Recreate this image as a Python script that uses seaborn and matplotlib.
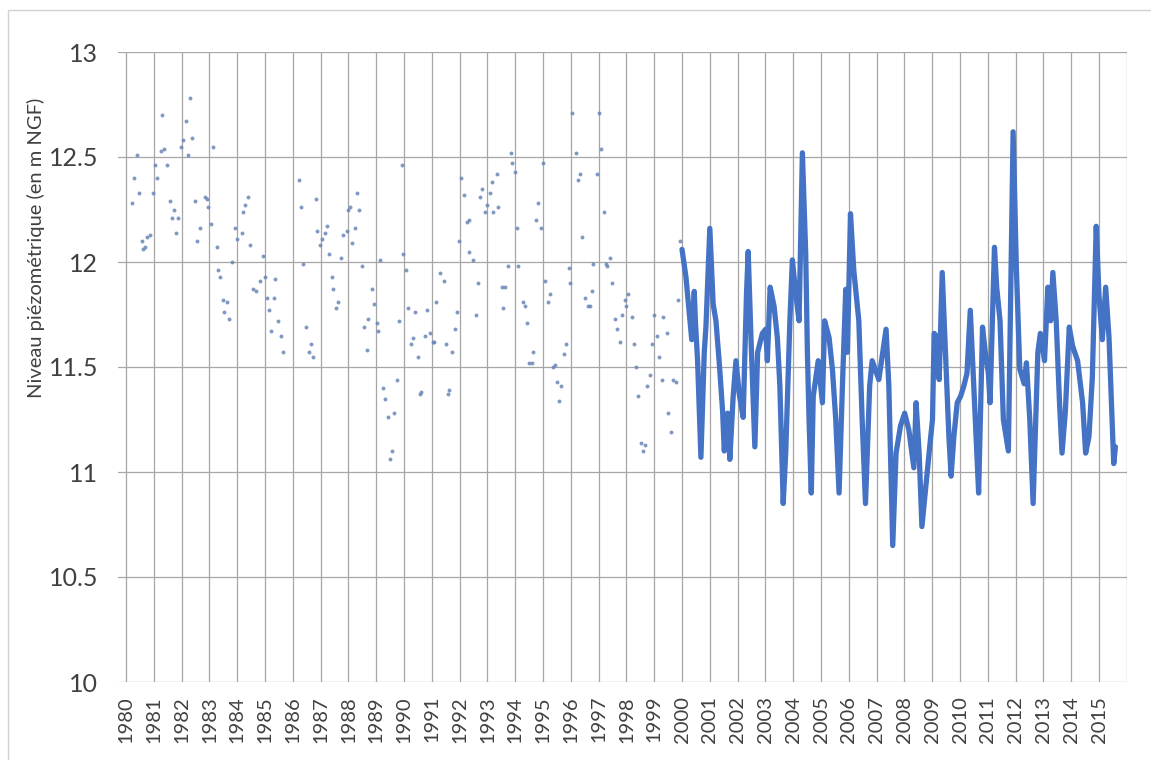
import numpy as np
import pandas as pd
import matplotlib
matplotlib.use("Agg")
import matplotlib.pyplot as plt
import matplotlib.patches as mpatches
import seaborn as sns

# relevés ponctuels 1980-2000 (année décimale, niveau m NGF)
obs_years = [
    1982.30, 1981.31, 1982.15, 1982.38, 1982.04, 1983.14, 1981.97, 1981.38, 1981.25, 1980.38,
    1982.24, 1981.04, 1981.46, 1980.29, 1981.10, 1980.48, 1980.98, 1980.21, 1981.58, 1982.48,
    1982.84, 1982.92, 1984.40, 1984.28, 1984.22, 1982.96, 1981.73, 1981.64, 1981.88, 1986.23,
    1986.83, 1986.29, 1983.05, 1982.66, 1981.80, 1983.92, 1984.16, 1984.00, 1980.86, 1980.77,
    1980.56, 1982.54, 1984.46, 1983.26, 1980.68, 1980.62, 1986.88, 1984.92, 1983.80, 1986.38,
    1983.30, 1983.38, 1985.00, 1985.36, 1984.82, 1984.58, 1984.68, 1985.06, 1985.32, 1983.48,
    1983.64, 1985.14, 1983.54, 1983.71, 1985.48, 1985.22, 1985.56, 1986.47, 1986.64, 1985.66,
    1986.59, 1986.72,
    1993.85, 1993.90, 1989.92, 1993.33, 1992.05, 1993.15, 1992.82, 1993.09, 1992.17, 1992.73,
    1988.32, 1992.97, 1993.39, 1988.06, 1988.00, 1988.38, 1992.91, 1993.21, 1992.34, 1992.25,
    1987.22, 1987.16, 1987.04, 1986.98, 1987.94, 1987.82, 1988.24, 1988.14, 1991.99, 1992.34,
    1987.31, 1987.73, 1989.97, 1989.14, 1992.49, 1988.48, 1990.06, 1993.75, 1987.40, 1991.29,
    1991.44, 1992.65, 1987.46, 1988.84, 1993.51, 1993.65, 1987.64, 1987.55, 1991.14, 1988.92,
    1990.15, 1990.40, 1990.82, 1991.90, 1992.59, 1993.57, 1988.72, 1988.56, 1989.02, 1989.08,
    1989.82, 1991.83, 1990.31, 1990.24, 1990.76, 1990.94, 1991.05, 1991.09, 1991.50, 1988.66,
    1991.71, 1990.51, 1989.76, 1989.26, 1989.32, 1990.61, 1990.58, 1991.62, 1991.57, 1989.65,
    1989.41, 1989.58, 1989.50,
    1996.05, 1997.01, 1997.08, 1996.18, 1993.99, 1995.01, 1996.33, 1996.27, 1996.95, 1994.83,
    1997.19, 1994.75, 1994.92, 1994.07, 1996.41, 1999.93, 1997.41, 1997.27, 1997.31, 1996.81,
    1994.11, 1995.94, 1995.07, 1995.97, 1997.49, 1995.25, 1996.75, 1996.51, 1998.07, 1997.95,
    1994.29, 1994.35, 1995.17, 1996.63, 1996.69, 1999.86, 1997.99, 1997.83, 1997.59, 1997.65,
    1998.19, 1998.99, 1999.33, 1994.43, 1999.09, 1999.45, 1997.77, 1998.27, 1998.93, 1995.82,
    1995.76, 1994.65, 1994.51, 1994.59, 1999.17, 1995.37, 1995.43, 1998.33, 1998.85, 1998.75,
    1999.27, 1999.69, 1999.77, 1995.51, 1995.65, 1995.59, 1998.41, 1999.51, 1999.62, 1998.53,
    1998.67, 1998.59,
]
obs_levels = [
    12.78, 12.70, 12.67, 12.59, 12.58, 12.55, 12.55, 12.54, 12.53, 12.51,
    12.51, 12.46, 12.46, 12.40, 12.40, 12.33, 12.33, 12.28, 12.29, 12.29,
    12.31, 12.30, 12.31, 12.27, 12.24, 12.26, 12.25, 12.21, 12.21, 12.39,
    12.30, 12.26, 12.18, 12.16, 12.14, 12.16, 12.14, 12.11, 12.13, 12.12,
    12.10, 12.10, 12.08, 12.07, 12.07, 12.06, 12.15, 12.03, 12.00, 11.99,
    11.96, 11.93, 11.93, 11.92, 11.91, 11.87, 11.86, 11.83, 11.83, 11.82,
    11.81, 11.77, 11.76, 11.73, 11.72, 11.67, 11.65, 11.69, 11.61, 11.57,
    11.57, 11.55,
    12.52, 12.47, 12.46, 12.42, 12.40, 12.38, 12.35, 12.33, 12.32, 12.31,
    12.33, 12.27, 12.26, 12.26, 12.25, 12.25, 12.24, 12.24, 12.20, 12.19,
    12.17, 12.14, 12.11, 12.08, 12.15, 12.13, 12.16, 12.09, 12.10, 12.05,
    12.04, 12.02, 12.04, 12.01, 12.01, 11.98, 11.96, 11.98, 11.93, 11.95,
    11.91, 11.90, 11.87, 11.87, 11.88, 11.88, 11.81, 11.78, 11.81, 11.80,
    11.78, 11.76, 11.77, 11.76, 11.75, 11.78, 11.73, 11.69, 11.71, 11.67,
    11.72, 11.68, 11.64, 11.61, 11.65, 11.66, 11.62, 11.62, 11.61, 11.58,
    11.57, 11.55, 11.44, 11.40, 11.35, 11.38, 11.37, 11.39, 11.37, 11.28,
    11.26, 11.10, 11.06,
    12.71, 12.71, 12.54, 12.52, 12.43, 12.47, 12.42, 12.39, 12.42, 12.28,
    12.24, 12.20, 12.16, 12.16, 12.12, 12.10, 12.02, 11.99, 11.98, 11.99,
    11.98, 11.97, 11.91, 11.90, 11.90, 11.85, 11.86, 11.83, 11.85, 11.82,
    11.81, 11.79, 11.81, 11.79, 11.79, 11.82, 11.79, 11.75, 11.73, 11.68,
    11.74, 11.75, 11.74, 11.71, 11.65, 11.66, 11.62, 11.61, 11.61, 11.61,
    11.56, 11.57, 11.52, 11.52, 11.55, 11.50, 11.51, 11.50, 11.46, 11.41,
    11.44, 11.44, 11.43, 11.43, 11.41, 11.34, 11.36, 11.28, 11.19, 11.14,
    11.13, 11.10,
]

# enregistrement continu 2000-2015
rec_years = [
    2000.00, 2000.14, 2000.26, 2000.35, 2000.44, 2000.48, 2000.56, 2000.68, 2000.80, 2000.86,
    2001.00, 2001.06, 2001.12, 2001.22, 2001.34, 2001.46, 2001.52, 2001.64, 2001.72, 2001.84,
    2001.94, 2002.06, 2002.20, 2002.32, 2002.38, 2002.48, 2002.62, 2002.72, 2002.89, 2003.01,
    2003.07, 2003.17, 2003.31, 2003.43, 2003.52, 2003.64, 2003.73, 2003.88, 2003.97, 2004.09,
    2004.21, 2004.33, 2004.45, 2004.51, 2004.57, 2004.65, 2004.72, 2004.90, 2005.05, 2005.13,
    2005.29, 2005.41, 2005.53, 2005.65, 2005.77, 2005.89, 2005.95, 2006.06, 2006.18, 2006.36,
    2006.48, 2006.60, 2006.75, 2006.84, 2007.08, 2007.22, 2007.34, 2007.44, 2007.50, 2007.58,
    2007.70, 2007.86, 2008.01, 2008.16, 2008.34, 2008.42, 2008.53, 2008.63, 2008.77, 2008.91,
    2009.01, 2009.07, 2009.19, 2009.25, 2009.36, 2009.46, 2009.51, 2009.60, 2009.68, 2009.78,
    2009.90, 2010.02, 2010.14, 2010.25, 2010.37, 2010.43, 2010.55, 2010.67, 2010.81, 2010.91,
    2011.02, 2011.08, 2011.24, 2011.32, 2011.44, 2011.56, 2011.74, 2011.91, 2012.03, 2012.15,
    2012.31, 2012.39, 2012.51, 2012.63, 2012.80, 2012.89, 2013.04, 2013.16, 2013.26, 2013.34,
    2013.46, 2013.58, 2013.67, 2013.79, 2013.93, 2014.05, 2014.23, 2014.41, 2014.52, 2014.64,
    2014.76, 2014.90, 2015.00, 2015.12, 2015.24, 2015.36, 2015.47, 2015.53, 2015.59,
]
rec_levels = [
    12.06, 11.93, 11.76, 11.63, 11.86, 11.72, 11.53, 11.07, 11.57, 11.69,
    12.16, 11.98, 11.80, 11.72, 11.52, 11.29, 11.10, 11.28, 11.06, 11.36,
    11.53, 11.37, 11.26, 11.85, 12.05, 11.64, 11.12, 11.57, 11.66, 11.68,
    11.53, 11.88, 11.79, 11.64, 11.41, 10.85, 11.09, 11.72, 12.01, 11.85,
    11.72, 12.52, 12.04, 11.57, 11.25, 10.90, 11.36, 11.53, 11.33, 11.72,
    11.64, 11.49, 11.25, 10.90, 11.41, 11.87, 11.57, 12.23, 11.96, 11.72,
    11.25, 10.85, 11.41, 11.53, 11.44, 11.57, 11.68, 11.41, 11.09, 10.65,
    11.09, 11.22, 11.28, 11.20, 11.02, 11.33, 11.09, 10.74, 10.93, 11.12,
    11.25, 11.66, 11.64, 11.44, 11.95, 11.63, 11.47, 11.17, 10.98, 11.17,
    11.33, 11.36, 11.41, 11.47, 11.77, 11.60, 11.25, 10.90, 11.69, 11.57,
    11.47, 11.33, 12.07, 11.88, 11.72, 11.25, 11.10, 12.62, 11.96, 11.49,
    11.42, 11.52, 11.25, 10.85, 11.57, 11.66, 11.53, 11.88, 11.72, 11.95,
    11.72, 11.33, 11.09, 11.29, 11.69, 11.60, 11.53, 11.33, 11.09, 11.17,
    11.45, 12.17, 11.84, 11.63, 11.88, 11.64, 11.25, 11.04, 11.12,
]

year_ticks = list(range(1980, 2017))
year_labels = [str(y) for y in range(1980, 2016)] + [""]
level_ticks = [10, 10.5, 11, 11.5, 12, 12.5, 13]
level_labels = ["10", "10.5", "11", "11.5", "12", "12.5", "13"]

obs = pd.DataFrame({"annee": obs_years, "niveau": obs_levels})
rec = pd.DataFrame({"annee": rec_years, "niveau": rec_levels})

sns.set_style("white")
plt.rcParams["font.family"] = ["Lato", "DejaVu Sans"]

W, H = 1151, 760
fig = plt.figure(figsize=(W / 100, H / 100), dpi=100)
ax = fig.add_axes([117.7 / W, 1 - 682 / H, (1126.8 - 117.7) / W, 630 / H])

bleu = "#4472c4"
grille = "#a6a6a6"
texte = "#404040"

sns.scatterplot(data=obs, x="annee", y="niveau", ax=ax, color="#6a86b8",
                s=8, linewidth=0, alpha=0.85, zorder=3)
sns.lineplot(data=rec, x="annee", y="niveau", ax=ax, color=bleu,
             linewidth=3.8, estimator=None, sort=False, zorder=4)

ax.set_xlim(1979.7, 2016.0)
ax.set_ylim(10, 13)
ax.set_xticks(year_ticks)
ax.set_xticklabels(year_labels, rotation=90, fontsize=14.5, color=texte)
ax.set_yticks(level_ticks)
ax.set_yticklabels(level_labels, fontsize=18, color=texte)
ax.grid(True, color=grille, linewidth=0.9)
ax.set_axisbelow(True)
for s in ax.spines.values():
    s.set_visible(False)
ax.tick_params(axis="x", length=6, width=0.9, color=grille, pad=4)
ax.tick_params(axis="y", length=0, pad=14)
ax.set_xlabel("")
ax.set_ylabel("")

fig.text(36 / W, 1 - 248 / H, "Niveau piézométrique (en m NGF)", rotation=90,
         ha="center", va="center", fontsize=14.5, color=texte)

# cadre du graphique
fig.add_artist(mpatches.Rectangle((8 / W, -0.1), 1.2, 1 - 10 / H + 0.1,
                                  transform=fig.transFigure, fill=False,
                                  edgecolor="#d0d0d0", linewidth=1))

fig.savefig("out.png", dpi=100, facecolor="white")
